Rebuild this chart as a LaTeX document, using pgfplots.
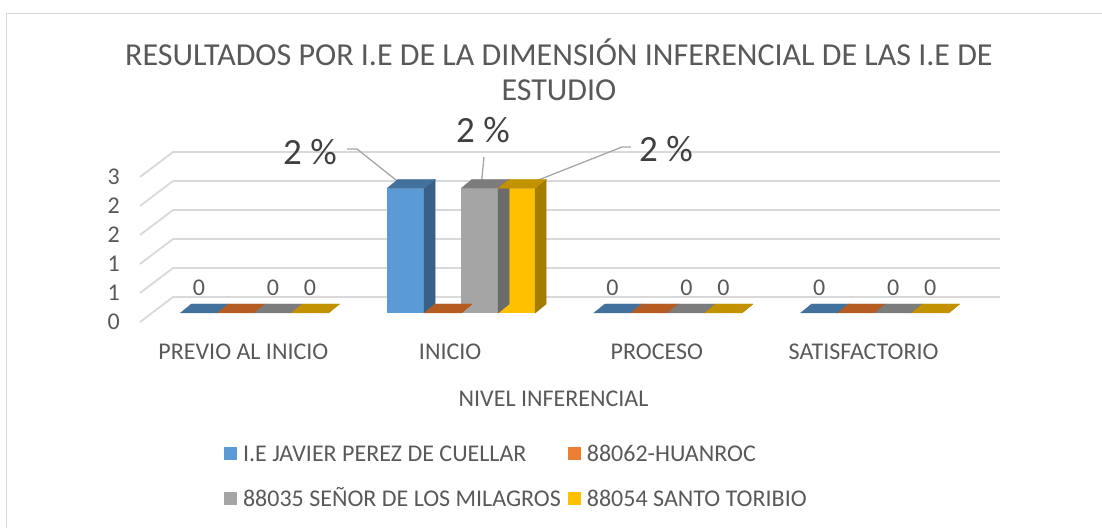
\documentclass[border=0pt]{standalone}
\usepackage{fontspec}
\setmainfont{Carlito}
\usepackage{pgfplots}
\usepackage{pgfplotstable}
\pgfplotsset{compat=1.18}
\definecolor{txt}{HTML}{595959}
\definecolor{lbl}{HTML}{404040}
\definecolor{gridc}{HTML}{D9D9D9}
\definecolor{lead}{HTML}{A6A6A6}
\definecolor{cA}{HTML}{5B9BD5}
\definecolor{cAt}{HTML}{41719C}
\definecolor{cAs}{HTML}{386089}
\definecolor{cB}{HTML}{ED7D31}
\definecolor{cBt}{HTML}{B45C22}
\definecolor{cBs}{HTML}{9C4E1C}
\definecolor{cC}{HTML}{A5A5A5}
\definecolor{cCt}{HTML}{7C7C7C}
\definecolor{cCs}{HTML}{6B6B6B}
\definecolor{cD}{HTML}{FFC000}
\definecolor{cDt}{HTML}{C29200}
\definecolor{cDs}{HTML}{A57B00}
\pgfdeclareplotmark{nomark}{}
\pgfplotstableread{
x A B C D
0 0 0 0 0
1 2.15 0 2.15 2.15
2 0 0 0 0
3 0 0 0 0
}\data
\pgfplotsset{
 faces/.style n args={3}{forget plot, only marks, mark=nomark, scatter,
   visualization depends on={rawy \as \hv},
   scatter/@pre marker code/.code={%
     \fill[#3] ({#1bp+48bp},{9bp-\hv*58bp}) -- ({#1bp+59bp},{18bp-\hv*58bp}) -- ({#1bp+59bp},18bp) -- ({#1bp+48bp},9bp) -- cycle;
     \fill[#2] ({#1bp+11bp},9bp) -- ({#1bp+48bp},9bp) -- ({#1bp+59bp},18bp) -- ({#1bp+22bp},18bp) -- cycle;
   },
   scatter/@post marker code/.code={}},
 front/.style 2 args={ybar, bar width=37bp, bar shift=#1, yshift=9bp, fill=#2, draw=none,
   legend image code/.code={\fill[#2] (0bp,-15bp) rectangle (13bp,-2bp);}},
 zerolab/.style={visualization depends on={rawy \as \hv},
   nodes near coords={\ifdim\hv pt>0.01pt\else 0\fi},
   every node near coord/.append style={font=\fontsize{24bp}{28bp}\selectfont, text=txt, anchor=center, xshift=#1, yshift=25bp, inner sep=0pt}},
}
\begin{document}
\begin{tikzpicture}
\useasboundingbox (0,0) rectangle (1102bp,528bp);
\draw[gridc, line width=1.5bp] (6.5bp,-5bp) -- (6.5bp,514.5bp) -- (1110bp,514.5bp);
\begin{axis}[
  at={(140bp,206bp)}, anchor=south west,
  scale only axis, width=827bp, height=145bp,
  xmin=-0.5, xmax=3.5, ymin=0, ymax=2.5,
  clip=false,
  axis line style={draw=none}, major tick length=0pt,
  xtick={0,1,2,3}, xticklabels={PREVIO AL INICIO, INICIO, PROCESO, SATISFACTORIO},
  ytick={0,0.5,1,1.5,2,2.5}, yticklabels={0,1,1,2,2,3},
  tick label style={font=\fontsize{24bp}{28bp}\selectfont, text=txt, inner sep=0pt},
  xticklabel style={anchor=north, yshift=-22bp},
  yticklabel style={anchor=east, xshift=-20bp},
  xlabel={NIVEL INFERENCIAL},
  xlabel style={at={(axis description cs:0.5,-0.476)}, anchor=north, inner sep=0pt, font=\fontsize{24bp}{28bp}\selectfont, text=txt},
  title={RESULTADOS POR I.E DE LA DIMENSIÓN INFERENCIAL DE LAS I.E DE\\ESTUDIO},
  title style={at={(axis description cs:0.5066,1.91)}, anchor=north, align=center, inner sep=0pt, font=\fontsize{32bp}{35bp}\selectfont, text=txt},
  legend columns=2, legend cell align=left,
  legend style={at={(axis description cs:0.1016,-0.8586)}, anchor=north west, draw=none, fill=none, inner sep=0pt, outer sep=0pt,
    font=\fontsize{24bp}{28bp}\selectfont, text=txt,
    nodes={inner sep=0pt, text height=15.5bp, text depth=0pt},
    column sep=0pt, row sep=29bp,
    /tikz/every odd column/.append style={column sep=6bp},
    /tikz/every even column/.append style={column sep=7bp}},
]
\pgfplotsinvokeforeach{0,0.5,1,1.5,2,2.5}{
  \draw[gridc, line width=1.8bp] (axis cs:-0.5,#1) -- ++(33bp,25bp) -- ([shift={(33bp,25bp)}]axis cs:3.5,#1);
}
\addplot[faces={-74}{cAt}{cAs}] table[x=x,y=A]{\data};
\addplot[front={-44.5bp}{cA}, zerolab={-44.5bp}] table[x=x,y=A]{\data};
\addlegendentry{I.E JAVIER PEREZ DE CUELLAR}
\addplot[faces={-37}{cBt}{cBs}] table[x=x,y=B]{\data};
\addplot[front={-7.5bp}{cB}] table[x=x,y=B]{\data};
\addlegendentry{88062-HUANROC}
\addplot[faces={0}{cCt}{cCs}] table[x=x,y=C]{\data};
\addplot[front={29.5bp}{cC}, zerolab={29.5bp}] table[x=x,y=C]{\data};
\addlegendentry{88035 SEÑOR DE LOS MILAGROS}
\addplot[faces={37}{cDt}{cDs}] table[x=x,y=D]{\data};
\addplot[front={66.5bp}{cD}, zerolab={66.5bp}] table[x=x,y=D]{\data};
\addlegendentry{88054 SANTO TORIBIO}
\draw[lead, line width=1.3bp] (axis cs:0.5012,2.983) -- (axis cs:0.5496,2.983) -- (axis cs:0.7866,2.310);
\draw[lead, line width=1.3bp] (axis cs:1.1638,2.845) -- (axis cs:1.1493,2.310);
\draw[lead, line width=1.3bp] (axis cs:1.3283,2.310) -- (axis cs:1.8313,3.017) -- (axis cs:1.8748,3.017);
\node[font=\fontsize{37bp}{42bp}\selectfont, text=lbl, inner sep=0pt] at (axis cs:0.3222,2.931) {2 \%};
\node[font=\fontsize{37bp}{42bp}\selectfont, text=lbl, inner sep=0pt] at (axis cs:1.159,3.310) {2 \%};
\node[font=\fontsize{37bp}{42bp}\selectfont, text=lbl, inner sep=0pt] at (axis cs:2.044,2.983) {2 \%};
\end{axis}
\end{tikzpicture}
\end{document}
